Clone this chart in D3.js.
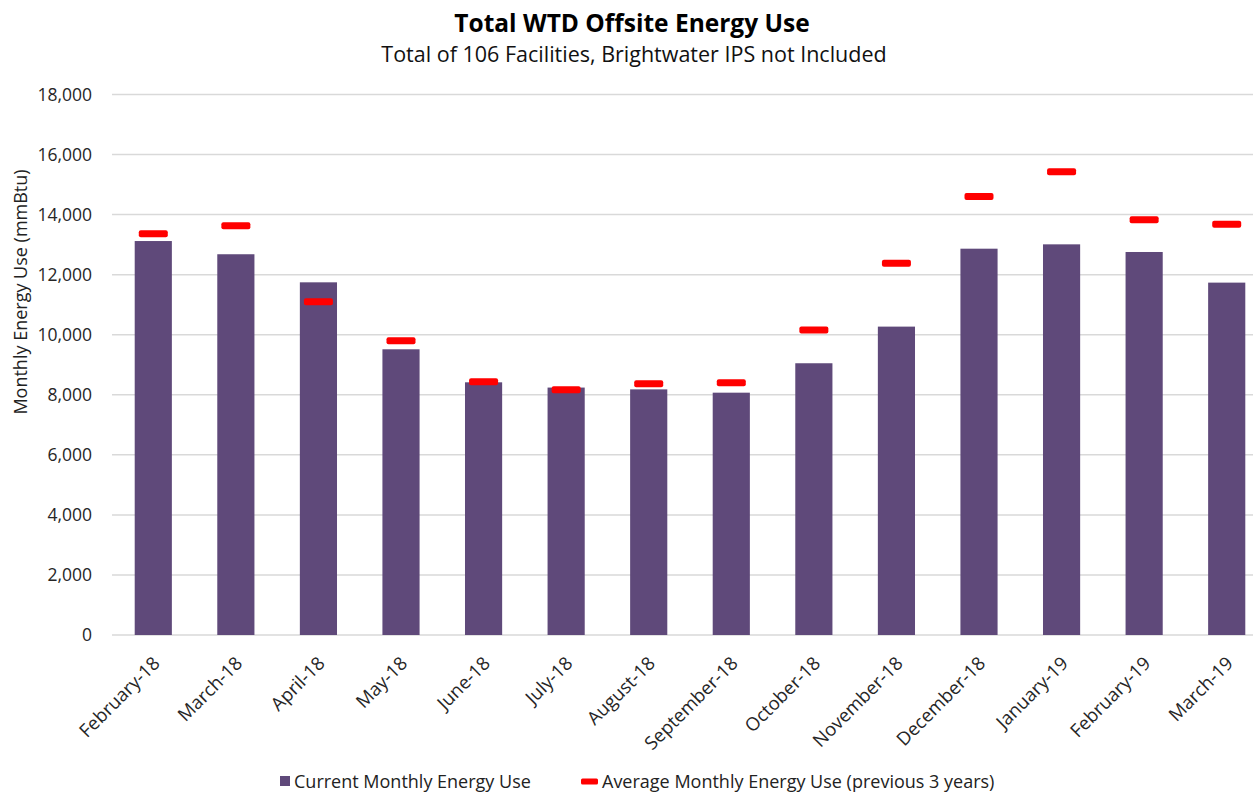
<!DOCTYPE html>
<html>
<head>
<meta charset="utf-8">
<script src="https://cdn.jsdelivr.net/npm/d3@7"></script>
<style>
  html, body { margin: 0; padding: 0; background: #fff; }
  svg { display: block; font-family: "Open Sans", sans-serif; }
</style>
</head>
<body>
<svg id="chart" width="1253" height="794"></svg>
<script>
const months = ["February-18","March-18","April-18","May-18","June-18","July-18","August-18",
  "September-18","October-18","November-18","December-18","January-19","February-19","March-19"];
const currentUse = [13120, 12680, 11745, 9515, 8415, 8240, 8180, 8070, 9050, 10270, 12865, 13010, 12755, 11735];
const averageUse = [13360, 13630, 11100, 9800, 8430, 8170, 8365, 8400, 10160, 12380, 14600, 15430, 13830, 13680];
const yTicks = [0, 2000, 4000, 6000, 8000, 10000, 12000, 14000, 16000, 18000];
const titleText = "Total WTD Offsite Energy Use";
const subtitleText = "Total of 106 Facilities, Brightwater IPS not Included";
const yAxisTitle = "Monthly Energy Use (mmBtu)";
const legendLabels = ["Current Monthly Energy Use", "Average Monthly Energy Use (previous 3 years)"];

const svg = d3.select("#chart");
const plotLeft = 112, plotRight = 1268, plotTop = 94.5, plotBottom = 635;

const x = d3.scaleBand().domain(months).range([plotLeft, plotRight]).paddingInner(0.55).paddingOuter(0.275);
const y = d3.scaleLinear().domain([0, 18000]).range([plotBottom, plotTop]);

svg.append("rect").attr("width", 1253).attr("height", 794).attr("fill", "#fff");

// gridlines
svg.append("g").selectAll("line").data(yTicks).join("line")
  .attr("x1", plotLeft).attr("x2", plotRight)
  .attr("y1", d => y(d)).attr("y2", d => y(d))
  .attr("stroke", "#d9d9d9").attr("stroke-width", 1.5);

// y axis labels
const yAxis = d3.axisLeft(y).tickValues(yTicks).tickFormat(d3.format(",")).tickSize(0).tickPadding(0);
const yg = svg.append("g").attr("transform", `translate(92,0)`).call(yAxis);
yg.select(".domain").remove();
yg.selectAll("text").attr("font-size", 17.5).attr("fill", "#262626").attr("font-family", "Open Sans, sans-serif");

// bars
svg.append("g").selectAll("rect").data(months).join("rect")
  .attr("x", d => x(d)).attr("width", x.bandwidth())
  .attr("y", (d, i) => y(currentUse[i]))
  .attr("height", (d, i) => y(0) - y(currentUse[i]))
  .attr("fill", "#5f497a");

// average markers
const mw = 29, mh = 7;
svg.append("g").selectAll("rect").data(months).join("rect")
  .attr("x", d => x(d) + x.bandwidth() / 2 - mw / 2)
  .attr("y", (d, i) => y(averageUse[i]) - mh / 2)
  .attr("width", mw).attr("height", mh).attr("rx", 2)
  .attr("fill", "#ff0000");

// x axis labels
const xAxis = d3.axisBottom(x).tickSize(0).tickPadding(0);
const xg = svg.append("g").attr("transform", `translate(0,${plotBottom})`).call(xAxis);
xg.select(".domain").remove();
xg.selectAll("text")
  .attr("font-size", 18.5).attr("fill", "#262626").attr("font-family", "Open Sans, sans-serif")
  .attr("text-anchor", "end")
  .attr("dy", "0.35em").attr("y", 0)
  .attr("transform", "translate(3,25) rotate(-45)");

// titles
svg.append("text").attr("x", 632).attr("y", 32).attr("text-anchor", "middle")
  .attr("font-size", 24.5).attr("font-weight", "bold").attr("fill", "#000").text(titleText);
svg.append("text").attr("x", 634).attr("y", 62).attr("text-anchor", "middle")
  .attr("font-size", 21.5).attr("fill", "#111").text(subtitleText);

// y axis title
svg.append("text").attr("transform", "translate(27,292) rotate(-90)")
  .attr("text-anchor", "middle").attr("font-size", 18).attr("fill", "#222").text(yAxisTitle);

// legend
const lg = svg.append("g");
lg.append("rect").attr("x", 280).attr("y", 776).attr("width", 10).attr("height", 10).attr("fill", "#5f497a");
lg.append("text").attr("x", 294).attr("y", 788).attr("font-size", 18).attr("fill", "#222").text(legendLabels[0]);
lg.append("rect").attr("x", 581).attr("y", 778.5).attr("width", 17).attr("height", 6).attr("rx", 1.5).attr("fill", "#ff0000");
lg.append("text").attr("x", 602).attr("y", 788).attr("font-size", 18).attr("fill", "#222").text(legendLabels[1]);
</script>
</body>
</html>
